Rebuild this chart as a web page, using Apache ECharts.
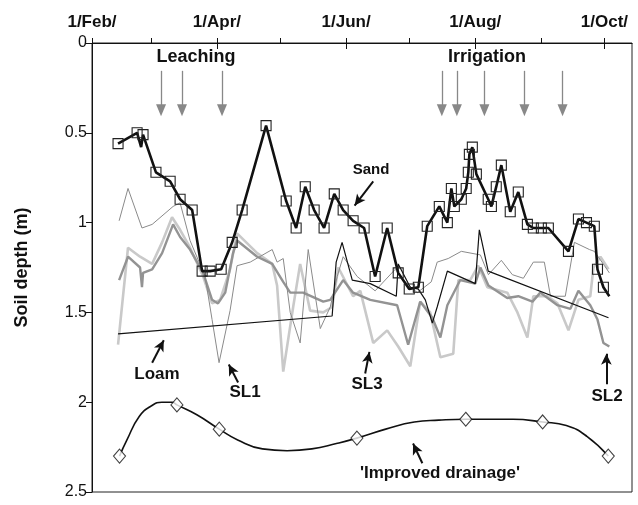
<!DOCTYPE html>
<html>
<head>
<meta charset="utf-8">
<script src="https://cdn.jsdelivr.net/npm/echarts@6/dist/echarts.min.js"></script>
<style>
  html, body { margin: 0; padding: 0; background: #fff; }
  #chart { width: 638px; height: 505px; }
</style>
</head>
<body>
<div id="chart"></div>
<script>
  // days counted from 1/Feb, depth in m
  var tickDays = [0, 28, 59, 89, 120, 150, 181, 212, 242]
  var labelDays = [0, 59, 120, 181, 242]
  var monthLabels = ['1/Feb/', '1/Apr/', '1/Jun/', '1/Aug/', '1/Oct/']

  var sandDay = [12.3, 21.3, 23.2, 24.1, 30.2, 36.9, 41.6, 47.3, 52.0, 55.8, 61.0, 66.2, 70.9, 82.2, 91.7, 96.4, 100.7, 104.9, 109.6, 114.4, 118.6, 123.3, 128.5, 133.7, 139.4, 144.6, 149.8, 154.1, 158.3, 164.0, 167.8, 169.7, 171.1, 174.4, 176.7, 177.7, 178.2, 179.6, 181.5, 187.1, 188.6, 190.9, 193.3, 197.5, 201.3, 205.6, 208.4, 212.2, 215.5, 225.0, 229.7, 233.5, 237.2, 238.7, 241.5, 244.3]
  var sandDepth = [0.56, 0.50, 0.58, 0.51, 0.72, 0.77, 0.87, 0.93, 1.27, 1.27, 1.26, 1.11, 0.93, 0.46, 0.88, 1.03, 0.80, 0.93, 1.03, 0.84, 0.93, 0.99, 1.03, 1.30, 1.03, 1.28, 1.37, 1.36, 1.02, 0.91, 1.00, 0.81, 0.91, 0.87, 0.81, 0.72, 0.62, 0.58, 0.73, 0.87, 0.91, 0.80, 0.68, 0.94, 0.83, 1.01, 1.03, 1.03, 1.03, 1.16, 0.98, 1.00, 1.02, 1.26, 1.36, 1.41]
  var sandNoMark = [2, 55]

  var loamDay = [12.3, 113.4, 115.3, 118.1, 122.9, 131.4, 143.7, 144.6, 150.3, 154.1, 157.4, 160.7, 163.0, 167.8, 181.0, 182.9, 187.1, 243.9]
  var loamDepth = [1.62, 1.52, 1.22, 1.11, 1.32, 1.34, 1.41, 1.23, 1.36, 1.37, 1.43, 1.56, 1.47, 1.27, 1.34, 1.04, 1.27, 1.53]

  var sl1Day = [12.8, 17.0, 23.6, 28.4, 38.3, 41.6, 46.3, 53.4, 56.7, 60.0, 65.2, 68.5, 74.7, 85.1, 87.4, 90.3, 93.6, 98.3, 102.1, 107.8, 112.5, 115.8, 118.6, 125.2, 133.7, 143.2, 147.9, 153.6, 160.2, 163.0, 168.2, 174.4, 183.4, 187.2, 193.3, 198.5, 203.7, 208.4, 213.6, 216.5, 223.5, 227.8, 234.9, 237.2, 242.0, 244.3]
  var sl1Depth = [0.99, 0.81, 1.03, 1.01, 0.91, 0.89, 1.10, 1.30, 1.54, 1.78, 1.49, 1.24, 1.22, 1.15, 1.22, 1.20, 1.50, 1.67, 1.15, 1.59, 1.47, 1.30, 1.19, 1.30, 1.38, 1.26, 1.33, 1.39, 1.33, 1.22, 1.20, 1.16, 1.18, 1.29, 1.21, 1.29, 1.31, 1.22, 1.22, 1.41, 1.41, 1.11, 1.15, 1.16, 1.24, 1.28]

  var sl2Day = [12.8, 17.0, 22.7, 23.6, 24.1, 28.4, 33.1, 38.3, 41.6, 46.3, 52.5, 56.7, 59.5, 62.9, 66.6, 68.5, 78.0, 85.1, 90.3, 93.6, 99.7, 109.2, 112.5, 118.6, 123.3, 131.4, 144.1, 149.3, 155.0, 160.7, 164.5, 167.8, 173.9, 181.0, 183.4, 187.2, 196.1, 201.3, 208.0, 211.7, 219.8, 225.9, 229.7, 235.3, 238.7, 241.5, 244.3]
  var sl2Depth = [1.32, 1.19, 1.25, 1.36, 1.28, 1.26, 1.17, 1.01, 1.08, 1.15, 1.28, 1.43, 1.45, 1.39, 1.17, 1.10, 1.19, 1.23, 1.33, 1.39, 1.39, 1.44, 1.43, 1.32, 1.39, 1.43, 1.46, 1.68, 1.44, 1.53, 1.64, 1.46, 1.32, 1.34, 1.25, 1.35, 1.42, 1.41, 1.44, 1.39, 1.46, 1.48, 1.38, 1.46, 1.54, 1.67, 1.69]

  var sl3Day = [12.3, 17.0, 22.7, 28.4, 33.1, 37.8, 41.6, 46.3, 52.5, 56.7, 60.5, 65.2, 68.5, 78.0, 85.1, 87.4, 90.3, 95.0, 98.3, 103.0, 109.2, 113.4, 116.3, 123.3, 126.7, 132.8, 139.4, 144.6, 150.3, 155.0, 159.7, 164.5, 170.6, 173.0, 178.6, 182.4, 186.7, 196.1, 200.9, 205.6, 208.4, 215.0, 219.8, 225.0, 229.7, 235.3, 236.8, 240.1, 243.9]
  var sl3Depth = [1.68, 1.14, 1.19, 1.23, 1.11, 0.97, 1.04, 1.14, 1.30, 1.45, 1.43, 1.26, 1.06, 1.17, 1.23, 1.35, 1.83, 1.47, 1.23, 1.49, 1.50, 1.47, 1.25, 1.41, 1.38, 1.67, 1.60, 1.69, 1.80, 1.44, 1.50, 1.75, 1.73, 1.32, 1.32, 1.24, 1.36, 1.39, 1.50, 1.64, 1.41, 1.41, 1.45, 1.60, 1.43, 1.41, 1.25, 1.19, 1.26]

  var drainDay = [13.0, 16.5, 22.3, 28.1, 33.0, 37.8, 40.1, 49.5, 60.1, 68.8, 80.5, 92.1, 103.8, 115.4, 125.1, 138.7, 152.2, 163.8, 176.5, 198.8, 212.8, 224.0, 233.7, 243.8]
  var drainDepth = [2.30, 2.21, 2.08, 2.02, 2.00, 2.00, 2.015, 2.07, 2.15, 2.21, 2.26, 2.27, 2.26, 2.23, 2.20, 2.15, 2.11, 2.10, 2.095, 2.095, 2.11, 2.13, 2.19, 2.30]
  var diamondDay = [13.0, 40.1, 60.1, 125.1, 176.5, 212.8, 243.8]
  var diamondDepth = [2.30, 2.015, 2.15, 2.20, 2.095, 2.11, 2.30]

  // event arrows
  var leachDays = [32.6, 42.5, 61.4]
  var irrigDays = [165.2, 172.3, 185.3, 204.2, 222.2]

  // pointer arrows: [fromDay, fromDepth, toDay, toDepth]
  var pointers = [
    [132.8, 0.77, 124.0, 0.905],
    [28.4, 1.78, 33.9, 1.655],
    [69.0, 1.89, 64.6, 1.79],
    [129.0, 1.84, 131.0, 1.72],
    [242.9, 1.90, 242.9, 1.73],
    [156.0, 2.34, 151.6, 2.23]
  ]

  function pairs(xs, ys) {
    return xs.map(function (x, i) { return [x, ys[i]] })
  }

  var font = '"Liberation Sans", Arial, sans-serif'
  var chart = echarts.init(document.getElementById('chart'))

  var sandData = pairs(sandDay, sandDepth).map(function (p, i) {
    return sandNoMark.indexOf(i) >= 0 ? {value: p, symbol: 'none'} : {value: p}
  })

  var eventLines = []
  leachDays.concat(irrigDays).forEach(function (d) {
    eventLines.push([{coord: [d, 0.155]}, {coord: [d, 0.375]}])
  })
  var pointerLines = pointers.map(function (p) {
    return [{coord: [p[0], p[1]]}, {coord: [p[2], p[3]]}]
  })

  function text(x, y, str, size) {
    return {
      type: 'text', x: x, y: y, silent: true,
      style: {
        text: str, fill: '#111', font: 'bold ' + size + 'px ' + font,
        align: 'center', verticalAlign: 'middle'
      }
    }
  }

  chart.setOption({
    animation: false,
    grid: {left: 92, right: 6, top: 43, bottom: 13, show: true, borderColor: '#222', borderWidth: 1},
    xAxis: [
      {
        type: 'value', position: 'top', min: 0, max: 255,
        axisLine: {show: true, lineStyle: {color: '#111', width: 1}},
        axisTick: {show: true, length: 5, customValues: tickDays, lineStyle: {color: '#111'}},
        axisLabel: {
          show: true, customValues: labelDays, margin: 12,
          color: '#111', fontFamily: font, fontWeight: 'bold', fontSize: 17,
          formatter: function (v) {
            var i = labelDays.indexOf(v)
            return i >= 0 ? monthLabels[i] : ''
          }
        },
        splitLine: {show: false}
      },
      {
        type: 'value', position: 'top', min: 0, max: 255,
        axisLine: {show: false},
        axisTick: {show: true, inside: true, length: 6, customValues: labelDays, lineStyle: {color: '#111'}},
        axisLabel: {show: false},
        splitLine: {show: false}
      }
    ],
    yAxis: {
      type: 'value', inverse: true, min: 0, max: 2.5, interval: 0.5,
      name: 'Soil depth (m)', nameLocation: 'middle', nameGap: 61, nameRotate: 90,
      nameTextStyle: {color: '#111', fontFamily: font, fontWeight: 'bold', fontSize: 18},
      axisLine: {show: true, lineStyle: {color: '#111', width: 1}},
      axisTick: {show: true, length: 6, lineStyle: {color: '#111'}},
      axisLabel: {color: '#111', fontFamily: font, fontSize: 16, margin: 5, formatter: function (v) { return String(v) }},
      splitLine: {show: false}
    },
    series: [
      {
        name: 'SL3', type: 'line', data: pairs(sl3Day, sl3Depth), showSymbol: false,
        lineStyle: {color: '#c9c9c9', width: 2.6}, z: 2
      },
      {
        name: 'SL2', type: 'line', data: pairs(sl2Day, sl2Depth), showSymbol: false,
        lineStyle: {color: '#939393', width: 2.4}, z: 3
      },
      {
        name: 'SL1', type: 'line', data: pairs(sl1Day, sl1Depth), showSymbol: false,
        lineStyle: {color: '#8a8a8a', width: 1}, z: 4
      },
      {
        name: 'Loam', type: 'line', data: pairs(loamDay, loamDepth), showSymbol: false,
        lineStyle: {color: '#111', width: 1.2}, z: 5
      },
      {
        name: 'Sand', type: 'line', data: sandData, symbol: 'rect', symbolSize: 10,
        itemStyle: {color: 'rgba(255,255,255,0)', borderColor: '#222', borderWidth: 1.1},
        lineStyle: {color: '#111', width: 2.6}, z: 6
      },
      {
        name: 'Improved drainage', type: 'line', data: pairs(drainDay, drainDepth), smooth: true,
        showSymbol: false, lineStyle: {color: '#111', width: 1.6}, z: 5
      },
      {
        name: 'drainage points', type: 'scatter', data: pairs(diamondDay, diamondDepth),
        symbol: 'diamond', symbolSize: [12, 14],
        itemStyle: {color: '#fff', borderColor: '#111', borderWidth: 1.1}, z: 7
      },
      {
        name: 'events', type: 'line', data: [[0, 0]], showSymbol: false, lineStyle: {width: 0},
        markLine: {
          silent: true, symbol: ['none', 'triangle'], symbolSize: [10, 12],
          label: {show: false},
          lineStyle: {color: '#888', width: 1.3, type: 'solid'},
          itemStyle: {color: '#4a4a4a'},
          data: eventLines
        }
      },
      {
        name: 'pointers', type: 'line', data: [[0, 0]], showSymbol: false, lineStyle: {width: 0},
        markLine: {
          silent: true, symbol: ['none', 'arrow'], symbolSize: [8, 11],
          label: {show: false},
          lineStyle: {color: '#111', width: 2, type: 'solid'},
          itemStyle: {color: '#111'},
          data: pointerLines
        }
      }
    ],
    graphic: [
      text(196, 57, 'Leaching', 18),
      text(487, 57, 'Irrigation', 18),
      text(371, 170, 'Sand', 15),
      text(157, 374, 'Loam', 17),
      text(245, 392, 'SL1', 17),
      text(367, 384, 'SL3', 17),
      text(607, 396, 'SL2', 17),
      text(440, 473, "'Improved drainage'", 17)
    ]
  })
</script>
</body>
</html>
